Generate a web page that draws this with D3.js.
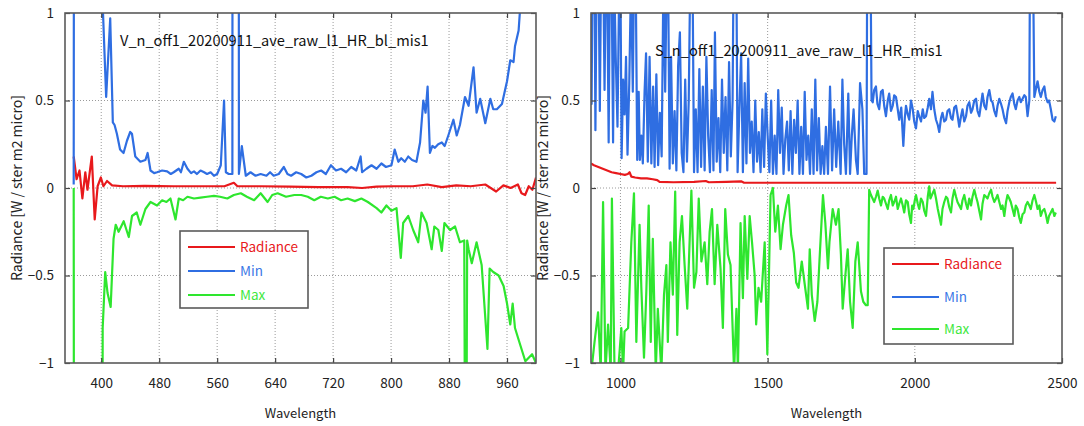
<!DOCTYPE html>
<html lang="en">
<head>
<meta charset="utf-8" />
<title>Radiance / Min / Max</title>
<script src="https://d3js.org/d3.v7.min.js"></script>
<style>
  body { margin: 0; background: #fff; }
  text { font-family: "Noto Sans CJK JP", "Noto Sans", sans-serif; }
</style>
</head>
<body>
<script>
    var w = 1084;
    var h = 426;

    // axis ticks and labels
    var visTicks = [400, 480, 560, 640, 720, 800, 880, 960];
    var swirTicks = [1000, 1500, 2000, 2500];
    var yTicks = [-1, -0.5, 0, 0.5, 1];
    var yTickLabels = ["\u22121", "\u22120.5", "0", "0.5", "1"];
    var gridY = [-0.5, 0, 0.5];
    var seriesNames = ["Radiance", "Min", "Max"];
    var titles = ["V_n_off1_20200911_ave_raw_l1_HR_bl_mis1", "S_n_off1_20200911_ave_raw_l1_HR_mis1"];
    var xLabel = "Wavelength";
    var yLabel = "Radiance [W / ster m2 micro]";

    // VNIR panel  [wavelength, value]
    var visRadiance = [[362,0.18],[366,0.05],[370,0.10],[374,-0.06],[378,0.09],[381,-0.01],[387,0.18],[391,-0.18],[395,0.01],[399.5,0.06],[403,0.01],[408,0.04],[415,0.015],[430,0.01],[460,0.012],[500,0.01],[540,0.01],[570,0.01],[583,0.03],[588,0.01],[620,0.01],[660,0.008],[700,0.005],[740,0.005],[760,0.0],[780,0.008],[800,0.01],[830,0.01],[850,0.02],[870,0.005],[890,0.015],[910,0.01],[930,0.02],[945,-0.02],[955,0.015],[965,0.0],[975,0.02],[980,-0.03],[985,-0.04],[990,0.01],[995,-0.01],[1000,0.06]];
    var visMin = [[362,0.02],[363,5],[401,5],[402,1.05],[406.8,0.52],[412.4,0.97],[416,0.375],[418.4,0.36],[421.6,0.31],[426,0.22],[430.8,0.2],[435.5,0.27],[440,0.32],[442.4,0.31],[447,0.18],[454,0.15],[461,0.16],[464,0.2],[468,0.1],[473,0.085],[477,0.09],[484,0.1],[491,0.095],[496,0.08],[500,0.09],[507,0.11],[510,0.09],[514,0.15],[519,0.11],[524,0.085],[528,0.095],[532,0.08],[537,0.1],[542,0.09],[546,0.08],[551,0.09],[555.6,0.07],[560,0.08],[565,0.13],[569.5,0.5],[572,0.09],[576,0.08],[581,0.08],[581.5,5],[589.5,5],[590,0.08],[594,0.24],[599.5,0.07],[606,0.09],[613,0.07],[620,0.08],[628,0.07],[633,0.09],[638,0.07],[645,0.08],[652,0.12],[657,0.08],[662,0.07],[669,0.09],[676,0.08],[683,0.06],[690,0.07],[697,0.09],[703.5,0.1],[710,0.08],[717,0.13],[724,0.1],[731,0.11],[738,0.09],[745,0.12],[752,0.1],[758,0.18],[760,0.09],[766,0.11],[773,0.13],[780,0.11],[786.6,0.14],[793,0.12],[800.5,0.13],[805,0.22],[810,0.15],[814,0.17],[819,0.15],[823.7,0.18],[829,0.16],[835,0.15],[840,0.26],[844.5,0.5],[847.6,0.43],[850.4,0.58],[853.6,0.2],[857,0.24],[860.5,0.23],[865,0.25],[870,0.26],[874,0.24],[879,0.3],[886,0.39],[890.6,0.3],[895,0.36],[902,0.52],[907,0.47],[913.8,0.69],[918,0.43],[923,0.51],[930,0.37],[937,0.51],[941,0.45],[946,0.45],[953,0.48],[960,0.61],[964.5,0.73],[969,0.72],[971,0.81],[976,0.9],[978.5,1.05],[990,1.6],[1000,2]];
    var visMax = [[362,0.0],[363,-5],[401,-5],[402,-0.8],[405.5,-0.48],[408.7,-0.6],[413,-0.68],[417,-0.29],[420,-0.21],[424,-0.25],[431,-0.19],[438,-0.28],[442.5,-0.16],[449,-0.14],[454,-0.21],[461,-0.12],[468,-0.08],[477,-0.1],[484,-0.07],[490,-0.08],[495.5,-0.06],[502.5,-0.18],[507,-0.06],[513,-0.07],[519,-0.05],[528,-0.06],[537,-0.055],[546,-0.05],[555.6,-0.045],[564,-0.05],[574,-0.06],[583,-0.04],[592.6,-0.03],[601,-0.05],[611,-0.07],[620,-0.03],[629.6,-0.08],[636,-0.04],[643.5,-0.03],[655,-0.05],[666.5,-0.04],[676,-0.04],[685,-0.05],[694,-0.07],[703,-0.05],[712.7,-0.06],[722,-0.05],[731,-0.07],[740,-0.06],[750,-0.075],[759,-0.06],[768,-0.08],[780,-0.115],[786.6,-0.14],[793.6,-0.1],[800.5,-0.13],[807.5,-0.115],[813.4,-0.4],[816.7,-0.2],[823.7,-0.16],[830.5,-0.24],[837.5,-0.31],[842,-0.14],[849,-0.2],[856,-0.35],[859.7,-0.22],[865.2,-0.24],[870,-0.36],[873.6,-0.2],[881.4,-0.24],[888.3,-0.22],[895,-0.31],[901,-0.3],[902,-1.5],[904,-1.5],[905,-0.3],[907,-0.35],[911.4,-0.43],[918,-0.31],[925,-0.44],[933,-0.92],[936,-0.46],[941,-0.48],[948.4,-0.5],[955.3,-0.56],[960,-0.66],[964.5,-0.78],[967.8,-0.66],[971,-0.8],[978.5,-0.9],[985.3,-0.99],[994.6,-0.95],[1000,-1.0]];

    // SWIR panel  [wavelength, value]
    var swirRadiance = [[900,0.14],[910,0.13],[925,0.12],[940,0.11],[955,0.1],[970,0.09],[985,0.085],[1000,0.08],[1015,0.075],[1025,0.08],[1031,0.09],[1037,0.065],[1050,0.06],[1070,0.055],[1090,0.055],[1110,0.05],[1125,0.045],[1133,0.035],[1180,0.033],[1250,0.035],[1290,0.04],[1300,0.033],[1360,0.035],[1410,0.038],[1420,0.03],[1600,0.03],[2000,0.03],[2480,0.03]];
    var swirMin = [[900,1.2],[902,0.48],[905,1.2],[912,1.2],[915,0.33],[919,1.2],[926,1.2],[930,0.44],[934,1.2],[942,1.2],[946,0.56],[950,1.2],[955,1.2],[960,0.26],[964,1.2],[970,1.2],[975,0.26],[979,1.2],[984,0.75],[990,0.35],[996,1.2],[1000,1.2],[1004,0.17],[1009,0.62],[1014,0.42],[1019,0.75],[1024,0.19],[1030,0.6],[1036,1.2],[1042,0.55],[1046,1.2],[1052,1.2],[1057,0.16],[1062,0.55],[1066,0.16],[1071,0.3],[1076,0.14],[1082,0.55],[1087,0.77],[1093,0.15],[1099,0.75],[1105,0.14],[1111,0.58],[1116,0.12],[1122,0.65],[1128,0.13],[1134,0.43],[1140,0.18],[1146,1.2],[1152,0.55],[1157,1.2],[1162,1.2],[1167,0.11],[1172,0.75],[1178,0.14],[1184,0.44],[1190,0.1],[1196,0.7],[1202,0.89],[1208,0.2],[1214,0.09],[1220,0.62],[1226,0.15],[1232,0.5],[1237,1.2],[1245,1.2],[1250,0.09],[1256,0.45],[1262,0.09],[1268,0.68],[1274,0.12],[1280,0.58],[1286,0.1],[1292,0.75],[1298,0.3],[1304,0.09],[1310,0.56],[1316,0.1],[1321,0.89],[1327,0.15],[1333,0.4],[1339,0.09],[1345,0.62],[1351,0.2],[1357,0.52],[1363,0.1],[1369,0.72],[1375,0.18],[1381,0.5],[1384,1.2],[1394,1.2],[1398,0.09],[1404,0.45],[1410,0.77],[1416,0.09],[1422,0.6],[1428,0.14],[1434,0.74],[1440,0.2],[1446,0.38],[1452,0.09],[1458,0.5],[1464,0.15],[1470,0.32],[1476,0.09],[1482,0.45],[1488,0.12],[1494,0.54],[1500,0.3],[1506,0.09],[1512,0.5],[1518,0.08],[1524,0.3],[1530,0.08],[1536,0.56],[1542,0.2],[1548,0.46],[1554,0.08],[1560,0.28],[1566,0.38],[1572,0.1],[1578,0.44],[1584,0.08],[1590,0.39],[1596,0.2],[1602,0.5],[1608,0.08],[1614,0.35],[1620,0.08],[1626,0.55],[1632,0.16],[1638,0.3],[1644,0.08],[1650,0.45],[1656,0.08],[1662,0.62],[1668,0.1],[1674,0.4],[1680,0.08],[1686,0.24],[1692,0.08],[1698,0.35],[1705,0.08],[1712,0.58],[1719,0.1],[1726,0.45],[1733,0.12],[1740,0.38],[1748,0.08],[1754,0.62],[1760,0.25],[1766,0.08],[1774,0.54],[1780,0.08],[1786,0.3],[1792,0.45],[1800,0.16],[1806,0.08],[1814,0.6],[1822,0.45],[1828,0.08],[1836,0.08],[1838,1.2],[1850,1.2],[1853,0.5],[1857,0.49],[1862,0.56],[1868,0.58],[1873,0.48],[1879,0.45],[1885,0.55],[1891,0.56],[1896,0.47],[1902,0.41],[1908,0.5],[1913,0.54],[1919,0.44],[1925,0.47],[1930,0.53],[1936,0.52],[1942,0.45],[1947,0.39],[1954,0.46],[1961,0.24],[1966,0.4],[1970,0.47],[1976,0.42],[1981,0.39],[1987,0.5],[1993,0.45],[1998,0.38],[2004,0.34],[2010,0.44],[2015,0.41],[2021,0.38],[2027,0.45],[2032,0.4],[2038,0.41],[2044,0.46],[2049,0.51],[2055,0.45],[2060,0.55],[2066,0.45],[2072,0.39],[2078,0.36],[2083,0.32],[2089,0.4],[2094,0.43],[2100,0.38],[2106,0.39],[2111,0.44],[2117,0.45],[2123,0.4],[2128,0.39],[2134,0.46],[2140,0.47],[2145,0.42],[2151,0.35],[2157,0.41],[2162,0.45],[2168,0.38],[2174,0.41],[2179,0.47],[2185,0.49],[2191,0.43],[2196,0.45],[2202,0.5],[2208,0.51],[2213,0.44],[2219,0.41],[2225,0.48],[2230,0.54],[2236,0.47],[2242,0.45],[2247,0.52],[2253,0.56],[2259,0.5],[2264,0.49],[2270,0.44],[2276,0.41],[2281,0.47],[2287,0.51],[2293,0.48],[2298,0.45],[2304,0.4],[2310,0.37],[2315,0.44],[2321,0.49],[2326,0.52],[2332,0.54],[2338,0.48],[2343,0.45],[2349,0.5],[2355,0.52],[2360,0.49],[2366,0.51],[2372,0.53],[2377,0.52],[2383,0.41],[2389,0.5],[2391,1.2],[2402,1.2],[2406,0.52],[2412,0.57],[2417,0.61],[2423,0.55],[2428,0.52],[2434,0.56],[2440,0.58],[2445,0.52],[2451,0.49],[2456,0.5],[2462,0.45],[2468,0.39],[2474,0.38],[2479,0.41]];
    var swirMax = [[901,-1.05],[912,-0.88],[924,-0.71],[933,-1.05],[941,-0.08],[949,-1.05],[958,-0.78],[967,-1.05],[971,-0.06],[980,-1.05],[992,-1.05],[1003,-0.8],[1009,-1.05],[1014,-0.82],[1026,-0.8],[1037,-0.31],[1046,-0.03],[1054,-0.88],[1065,-0.21],[1071,-0.57],[1080,-0.97],[1088,-0.59],[1096,-0.1],[1103,-0.88],[1110,-0.29],[1120,-1.05],[1127,-0.69],[1139,-1.05],[1148,-0.61],[1156,-0.44],[1161,-0.88],[1170,-0.31],[1178,-0.61],[1186,-0.02],[1193,-0.84],[1201,-0.31],[1209,-0.16],[1218,-0.44],[1227,-0.69],[1241,-0.015],[1250,-0.57],[1258,-0.48],[1266,-0.06],[1275,-0.42],[1286,-0.31],[1295,-0.55],[1303,-0.25],[1311,-0.12],[1320,-0.55],[1329,-0.21],[1340,-0.46],[1348,-0.8],[1356,-0.12],[1365,-0.38],[1374,-0.44],[1386,-1.05],[1394,-0.69],[1399,-1.05],[1408,-0.2],[1416,-0.63],[1422,-0.16],[1431,-0.52],[1439,-0.16],[1447,-0.31],[1456,-0.5],[1461,-0.78],[1469,-0.57],[1478,-0.65],[1490,-0.31],[1499,-0.95],[1510,-0.04],[1518,0.0],[1526,-0.25],[1535,-0.1],[1544,-0.35],[1552,-0.21],[1563,-0.1],[1571,-0.04],[1580,-0.27],[1589,-0.37],[1597,-0.54],[1605,-0.57],[1616,-0.42],[1626,-0.55],[1637,-0.69],[1643,-0.35],[1650,-0.61],[1660,-0.76],[1669,-0.65],[1676,-0.42],[1688,-0.04],[1696,-0.2],[1705,-0.46],[1710,-0.31],[1721,-0.12],[1732,-0.21],[1741,-0.12],[1749,-0.38],[1755,-0.69],[1764,-0.5],[1772,-0.35],[1780,-0.65],[1789,-0.8],[1798,-0.42],[1806,-0.31],[1817,-0.59],[1825,-0.65],[1834,-0.67],[1840,-0.67],[1845,-0.01],[1851,-0.04],[1862,-0.08],[1868,-0.05],[1874,-0.015],[1879,-0.06],[1885,-0.1],[1891,-0.05],[1896,-0.06],[1902,-0.09],[1908,-0.12],[1913,-0.07],[1919,-0.04],[1925,-0.1],[1930,-0.08],[1936,-0.05],[1942,-0.12],[1947,-0.09],[1953,-0.06],[1959,-0.1],[1964,-0.14],[1970,-0.07],[1976,-0.08],[1981,-0.15],[1987,-0.2],[1991,-0.1],[1995,-0.12],[2000,-0.07],[2004,-0.04],[2010,-0.09],[2015,-0.12],[2021,-0.06],[2027,-0.08],[2032,-0.13],[2038,-0.16],[2044,-0.05],[2049,0.01],[2053,-0.06],[2058,-0.04],[2066,-0.01],[2072,-0.06],[2078,-0.12],[2083,-0.16],[2089,-0.21],[2094,-0.12],[2100,-0.08],[2106,-0.05],[2111,-0.06],[2117,-0.11],[2123,-0.14],[2128,-0.06],[2134,-0.01],[2140,-0.05],[2145,-0.08],[2151,-0.1],[2157,-0.12],[2162,-0.07],[2168,-0.04],[2174,-0.09],[2179,-0.12],[2185,-0.06],[2191,-0.1],[2196,-0.05],[2202,-0.01],[2208,-0.05],[2213,-0.08],[2219,-0.13],[2225,-0.18],[2230,-0.09],[2236,-0.04],[2242,-0.05],[2247,-0.06],[2253,-0.03],[2259,-0.01],[2264,-0.05],[2270,-0.08],[2276,-0.06],[2281,-0.04],[2287,-0.08],[2293,-0.12],[2298,-0.1],[2304,-0.16],[2310,-0.08],[2315,-0.04],[2321,-0.06],[2326,-0.08],[2332,-0.12],[2338,-0.16],[2343,-0.1],[2349,-0.12],[2355,-0.17],[2360,-0.2],[2366,-0.15],[2372,-0.14],[2377,-0.1],[2383,-0.08],[2389,-0.1],[2394,-0.12],[2400,-0.07],[2406,-0.04],[2412,-0.08],[2417,-0.12],[2423,-0.1],[2428,-0.16],[2434,-0.13],[2440,-0.12],[2445,-0.15],[2451,-0.2],[2456,-0.16],[2462,-0.14],[2468,-0.12],[2474,-0.16],[2479,-0.14]];

    var colors = ["#e8191c", "#2f6ee2", "#2ee62e"];
    var textColors = ["#e8191c", "#3a78e6", "#3ee83e"];

    var panels = [
        { left: 65, right: 536, domain: [350, 1000], ticks: visTicks, title: titles[0], titleX: 120, titleY: 46,
          series: [visRadiance, visMin, visMax], legend: { x: 180, y: 231, w: 128, h: 77, rows: [247, 271, 295] } },
        { left: 591, right: 1062, domain: [900, 2500], ticks: swirTicks, title: titles[1], titleX: 655, titleY: 56,
          series: [swirRadiance, swirMin, swirMax], legend: { x: 884, y: 248, w: 129, h: 96, rows: [264, 297, 329] } }
    ];
    var plotTop = 13, plotBottom = 363;

    var svg = d3.select("body")
        .append("svg")
        .attr("width", w)
        .attr("height", h);

    var yScale = d3.scaleLinear().domain([-1, 1]).range([plotBottom, plotTop]);

    panels.forEach(function(p, i) {
        var xScale = d3.scaleLinear().domain(p.domain).range([p.left, p.right]);
        var g = svg.append("g");

        // dotted grid
        g.selectAll(".gx")
            .data(p.ticks.filter(function(t) { return t < p.domain[1]; }))
            .enter().append("line")
            .attr("x1", function(d) { return xScale(d); })
            .attr("x2", function(d) { return xScale(d); })
            .attr("y1", plotTop).attr("y2", plotBottom)
            .attr("stroke", "#9a9a9a").attr("stroke-width", 1)
            .attr("stroke-dasharray", "1,2");
        g.selectAll(".gy")
            .data(gridY)
            .enter().append("line")
            .attr("x1", p.left).attr("x2", p.right)
            .attr("y1", function(d) { return yScale(d); })
            .attr("y2", function(d) { return yScale(d); })
            .attr("stroke", "#9a9a9a").attr("stroke-width", 1)
            .attr("stroke-dasharray", "1,2");

        // curves, clipped to the plot box
        svg.append("clipPath").attr("id", "clip" + i)
            .append("rect")
            .attr("x", p.left).attr("y", plotTop)
            .attr("width", p.right - p.left).attr("height", plotBottom - plotTop);

        var line = d3.line()
            .x(function(d) { return xScale(d[0]); })
            .y(function(d) { return yScale(d[1]); });

        g.append("g").attr("clip-path", "url(#clip" + i + ")")
            .selectAll("path")
            .data(p.series)
            .enter().append("path")
            .attr("d", line)
            .attr("fill", "none")
            .attr("stroke", function(d, k) { return colors[k]; })
            .attr("stroke-width", 2.2)
            .attr("stroke-linejoin", "round");

        // axes with inward ticks
        var fmt = function(d) { return yTickLabels[yTicks.indexOf(d)]; };
        var axes = [
            d3.axisBottom(xScale).tickValues(p.ticks).tickSize(-5).tickPadding(15).tickFormat(d3.format("d")),
            d3.axisTop(xScale).tickValues(p.ticks).tickSize(-5).tickFormat(""),
            d3.axisLeft(yScale).tickValues(yTicks).tickSize(-5).tickPadding(11).tickFormat(fmt),
            d3.axisRight(yScale).tickValues(yTicks).tickSize(-5).tickFormat("")
        ];
        var shifts = ["translate(0," + plotBottom + ")", "translate(0," + plotTop + ")",
                      "translate(" + p.left + ",0)", "translate(" + p.right + ",0)"];
        axes.forEach(function(ax, k) {
            var a = g.append("g").attr("transform", shifts[k]).call(ax);
            a.select(".domain").remove();
            a.selectAll("line").attr("stroke", "#444").attr("stroke-width", 1.2);
            a.selectAll("text")
                .attr("font-size", "13.5px")
                .attr("fill", "#222");
        });

        // frame
        g.append("rect")
            .attr("x", p.left).attr("y", plotTop)
            .attr("width", p.right - p.left).attr("height", plotBottom - plotTop)
            .attr("fill", "none").attr("stroke", "#5a5a5a").attr("stroke-width", 1.6);

        // title inside plot
        g.append("text")
            .attr("x", p.titleX).attr("y", p.titleY)
            .attr("font-size", "14.6px").attr("fill", "#111")
            .text(p.title);

        // axis titles
        g.append("text")
            .attr("x", (p.left + p.right) / 2).attr("y", 418)
            .attr("text-anchor", "middle")
            .attr("font-size", "13px").attr("fill", "#222")
            .text(xLabel);
        g.append("text")
            .attr("transform", "translate(" + (p.left - 43) + "," + ((plotTop + plotBottom) / 2) + ") rotate(-90)")
            .attr("text-anchor", "middle")
            .attr("font-size", "14px").attr("fill", "#222")
            .text(yLabel);

        // legend box
        var L = p.legend;
        var lg = g.append("g");
        lg.append("rect")
            .attr("x", L.x).attr("y", L.y)
            .attr("width", L.w).attr("height", L.h)
            .attr("fill", "#fff").attr("stroke", "#5a5a5a").attr("stroke-width", 1.6);
        lg.selectAll("line")
            .data(seriesNames)
            .enter().append("line")
            .attr("x1", L.x + 8).attr("x2", L.x + 55)
            .attr("y1", function(d, k) { return L.rows[k]; })
            .attr("y2", function(d, k) { return L.rows[k]; })
            .attr("stroke", function(d, k) { return colors[k]; })
            .attr("stroke-width", 2.2);
        lg.selectAll("text")
            .data(seriesNames)
            .enter().append("text")
            .attr("x", L.x + 60)
            .attr("y", function(d, k) { return L.rows[k] + 5; })
            .attr("font-size", "13.5px")
            .attr("fill", function(d, k) { return textColors[k]; })
            .text(function(d) { return d; });
    });
</script>
</body>
</html>
